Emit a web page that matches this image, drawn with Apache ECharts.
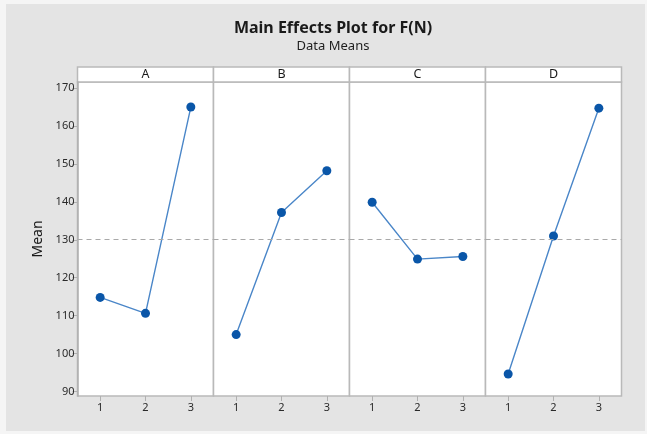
<!DOCTYPE html>
<html>
<head>
<meta charset="utf-8">
<script src="https://cdn.jsdelivr.net/npm/echarts@6/dist/echarts.min.js"></script>
<style>
  html, body { margin: 0; padding: 0; background: #f5f5f5; }
  #chart { width: 647px; height: 434px; }
</style>
</head>
<body>
<div id="chart"></div>
<script>
// Factor levels and the mean response at each level
const levels = ['1', '2', '3'];
const factors = ['A', 'B', 'C', 'D'];
const meansA = [114.8, 110.6, 165.0];
const meansB = [105.0, 137.2, 148.2];
const meansC = [139.9, 124.9, 125.6];
const meansD = [94.6, 131.0, 164.7];
const meanTicks = [90, 100, 110, 120, 130, 140, 150, 160, 170];

const panelMeans = [meansA, meansB, meansC, meansD];
const all = panelMeans.flat();
const grandMean = all.reduce((s, v) => s + v, 0) / all.length;

const FONT = '"Noto Sans", "Open Sans", sans-serif';
const panelLeft = 77.5, panelW = 136, plotTop = 82, plotH = 314;
const frameColor = '#b9b9b9';

const grids = [], xAxes = [], yAxes = [], series = [], graphics = [];

// Figure background
graphics.push({
  type: 'rect', z: -10, silent: true,
  shape: { x: 6, y: 4, width: 639, height: 427 },
  style: { fill: '#e4e4e4' }
});

factors.forEach((f, i) => {
  const left = panelLeft + i * panelW;
  grids.push({
    left: left, top: plotTop, width: panelW, height: plotH,
    show: true, backgroundColor: '#ffffff',
    borderColor: frameColor, borderWidth: 1.5
  });
  xAxes.push({
    type: 'category', gridIndex: i, data: levels, boundaryGap: true,
    axisLine: { show: false },
    axisTick: { show: true, alignWithLabel: true, length: 5, lineStyle: { color: '#b0b0b0' } },
    axisLabel: { color: '#2a2a2a', fontSize: 11, fontFamily: FONT, margin: 6 },
    splitLine: { show: false }
  });
  yAxes.push({
    type: 'value', gridIndex: i, min: 88.8, max: 171.6,
    axisLine: { show: i === 0, lineStyle: { color: '#b0b0b0', width: 1.5 } },
    axisTick: { show: i === 0, length: 5, customValues: meanTicks, lineStyle: { color: '#b0b0b0' } },
    axisLabel: { show: i === 0, customValues: meanTicks, color: '#2a2a2a', fontSize: 11, fontFamily: FONT, margin: 3 },
    splitLine: { show: false },
    name: i === 0 ? 'Mean' : '',
    nameLocation: 'middle', nameGap: 32, nameRotate: 90,
    nameTextStyle: { color: '#1a1a1a', fontSize: 14, fontFamily: FONT }
  });
  series.push({
    type: 'line', xAxisIndex: i, yAxisIndex: i,
    data: panelMeans[i],
    symbol: 'circle', symbolSize: 9,
    lineStyle: { color: '#4a86c8', width: 1.4 },
    itemStyle: { color: '#0a56a8' },
    markLine: {
      silent: true, symbol: 'none', label: { show: false },
      lineStyle: { color: '#a9a9a9', type: [5, 4], width: 1 },
      data: [{ yAxis: grandMean }]
    }
  });
  // Panel header strip
  graphics.push({
    type: 'rect', silent: true,
    shape: { x: left, y: 67, width: panelW, height: 15 },
    style: { fill: '#ffffff', stroke: frameColor, lineWidth: 1.5 }
  });
  graphics.push({
    type: 'text', silent: true,
    style: {
      x: left + panelW / 2, y: 74.5, text: f,
      align: 'center', verticalAlign: 'middle',
      fill: '#1a1a1a', fontSize: 12.5, fontFamily: FONT
    }
  });
});

const chart = echarts.init(document.getElementById('chart'));
chart.setOption({
  backgroundColor: '#f5f5f5',
  animation: false,
  title: {
    text: 'Main Effects Plot for F(N)',
    subtext: 'Data Means',
    left: 328, top: 15, textAlign: 'center',
    itemGap: 4,
    textStyle: { color: '#1a1a1a', fontSize: 16, fontWeight: 'bold', fontFamily: FONT },
    subtextStyle: { color: '#1e1e1e', fontSize: 13, fontFamily: FONT }
  },
  grid: grids,
  xAxis: xAxes,
  yAxis: yAxes,
  series: series,
  graphic: graphics
});
</script>
</body>
</html>
